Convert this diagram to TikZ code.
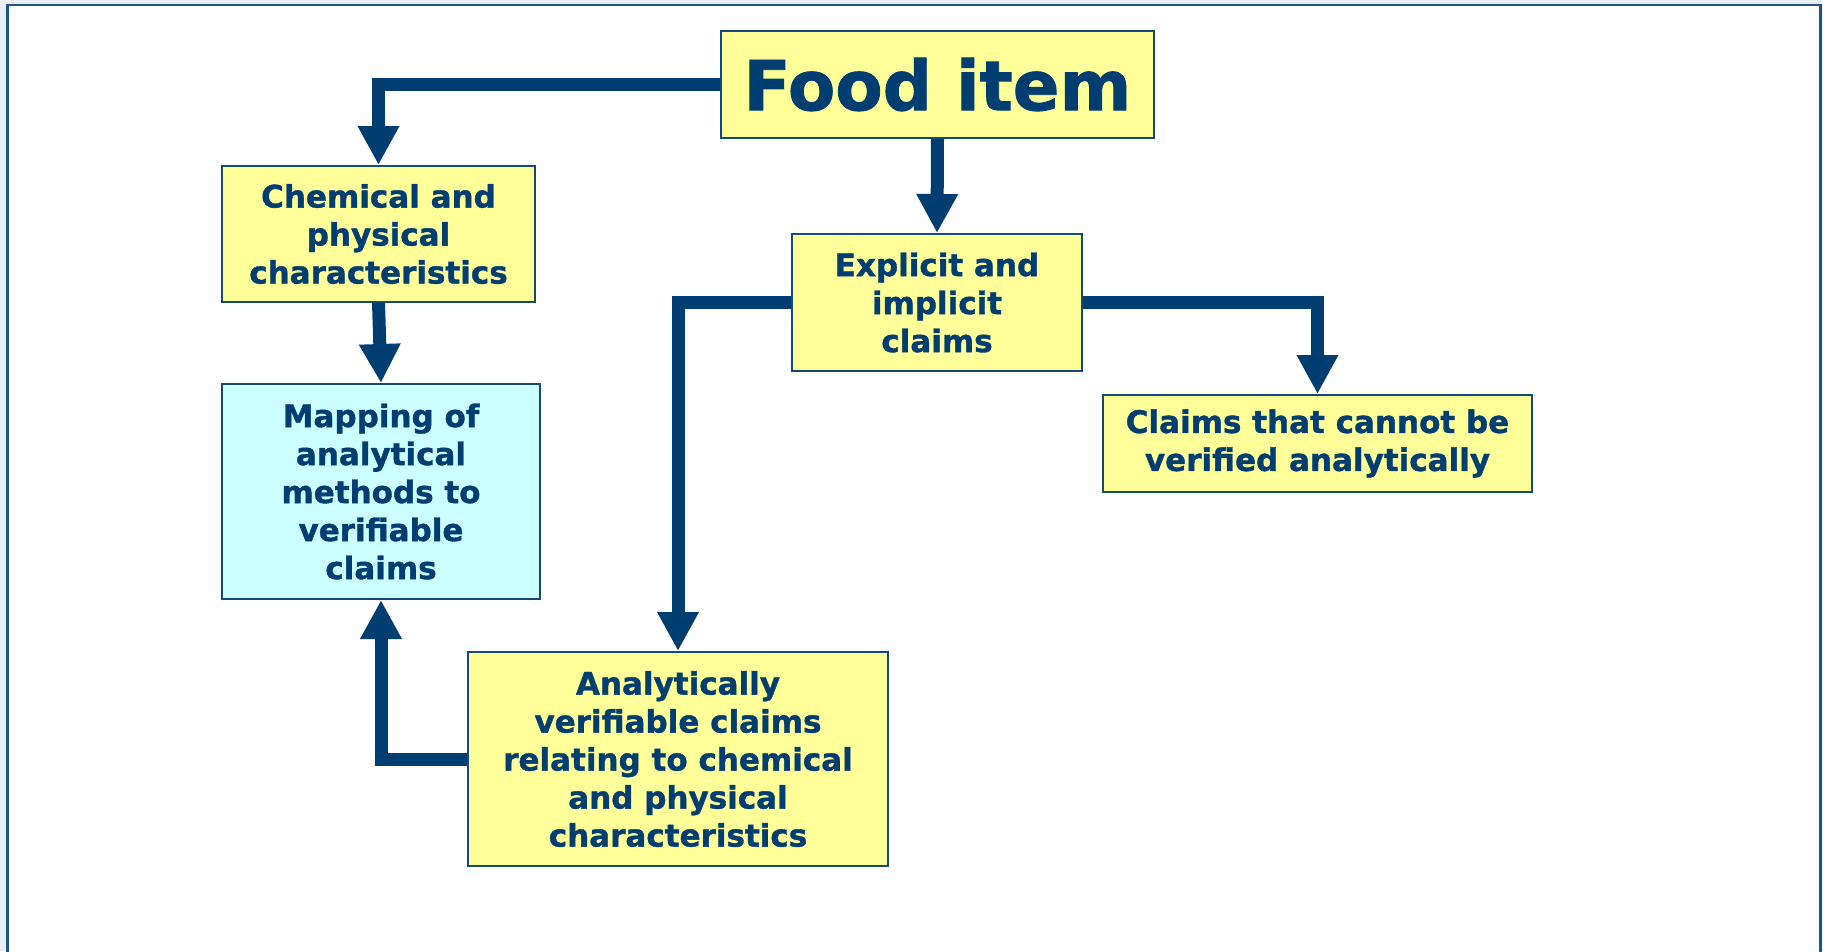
\documentclass[tikz,border=0pt]{standalone}
\usepackage{fontspec}
\setmainfont{DejaVu Sans}[BoldFeatures={FakeBold=1.2}]
\usetikzlibrary{arrows.meta}
\definecolor{txtblue}{RGB}{0,62,114}
\definecolor{arrblue}{RGB}{0,62,114}
\definecolor{boxline}{RGB}{22,72,122}
\definecolor{boxyellow}{RGB}{255,255,153}
\definecolor{boxcyan}{RGB}{204,255,255}
\definecolor{framecol}{RGB}{30,84,134}
\definecolor{outside}{RGB}{232,238,243}
\begin{document}
\begin{tikzpicture}[x=1pt,y=-1pt,
  box/.style={draw=boxline, line width=2pt, fill=boxyellow, inner sep=0pt, align=center,
    text=txtblue, font=\fontsize{31}{38}\selectfont\bfseries},
  conn/.style={draw=arrblue, line width=13pt, line join=miter,
    -{Triangle[width=39pt,length=39pt]}}]
\fill[outside] (0,0) rectangle (1823,951);
\useasboundingbox (0,0) rectangle (1823,951);
\begin{scope}
\clip (0,0) rectangle (1823,951);
\draw[framecol, line width=2.5pt, fill=white] (7.5,5) rectangle (1820.5,975);
\end{scope}

\node[box, minimum width=433pt, minimum height=107pt,
  font=\fontsize{69}{80}\selectfont\bfseries] (food) at (937.5,84.5) {Food item};
\node[box, minimum width=313pt, minimum height=136pt] (chem) at (378.5,234)
  {Chemical and\\physical\\characteristics};
\node[box, fill=boxcyan, minimum width=318pt, minimum height=215pt] (map) at (381,491.5)
  {Mapping of\\analytical\\methods to\\verifiable\\claims};
\node[box, minimum width=290pt, minimum height=137pt] (expl) at (937,302.5)
  {Explicit and\\implicit\\claims};
\node[box, minimum width=429pt, minimum height=97pt] (cannot) at (1317.5,443.5)
  {Claims that cannot be\\verified analytically};
\node[box, minimum width=420pt, minimum height=214pt] (anal) at (678,759)
  {Analytically\\verifiable claims\\relating to chemical\\and physical\\characteristics};

\draw[conn] (food.west) -| (chem.north);
\draw[conn] (food.south) -- (expl.north);
\draw[conn] (chem.south) -- (map.north);
\draw[conn] (expl.west) -| (anal.north);
\draw[conn] (expl.east) -| (cannot.north);
\draw[conn] (anal.west) -| (map.south);
\end{tikzpicture}
\end{document}
